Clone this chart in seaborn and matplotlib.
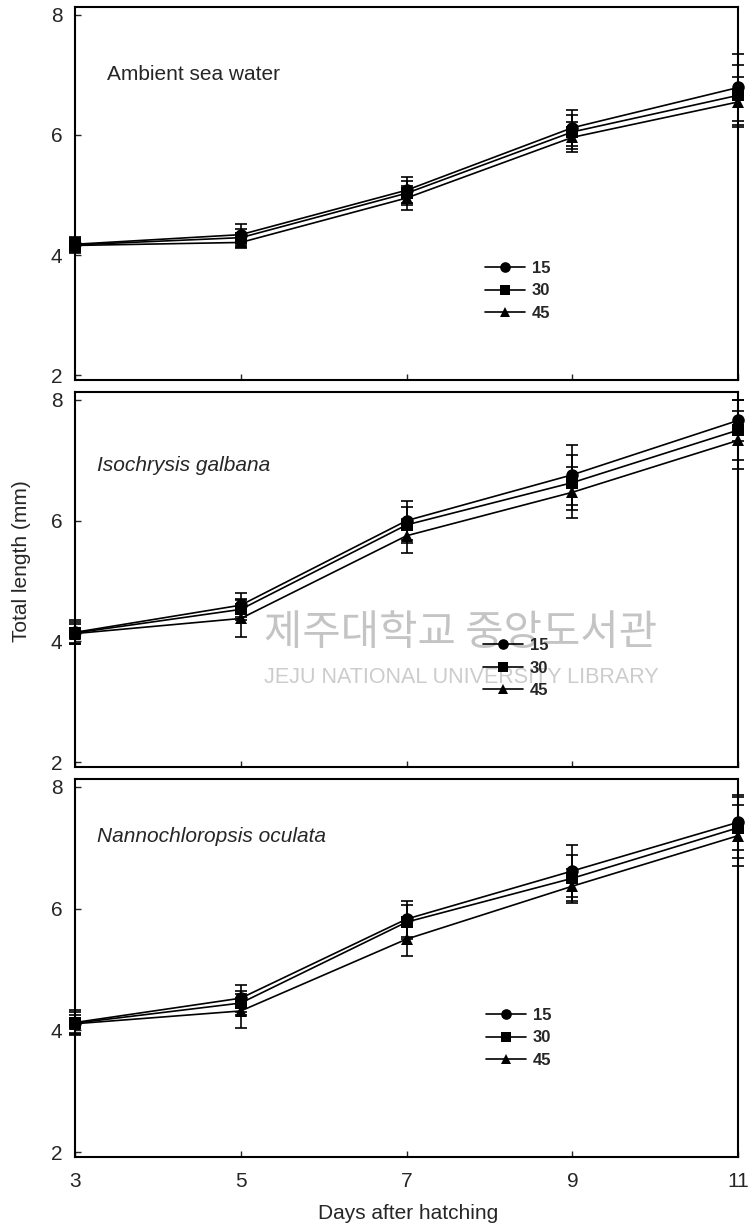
import matplotlib
matplotlib.use("Agg")
import pandas as pd
import seaborn as sns
import matplotlib.pyplot as plt

days = [3, 5, 7, 9, 11]
densities = ["15", "30", "45"]
panels = ["Ambient sea water", "Isochrysis galbana", "Nannochloropsis oculata"]

# mean total length (mm) and error, per panel and density
amb_15 = [4.18, 4.34, 5.08, 6.12, 6.79]
amb_30 = [4.17, 4.29, 5.03, 6.05, 6.66]
amb_45 = [4.16, 4.21, 4.95, 5.96, 6.55]
amb_err_15 = [0.12, 0.17, 0.22, 0.30, 0.55]
amb_err_30 = [0.12, 0.15, 0.20, 0.28, 0.50]
amb_err_45 = [0.12, 0.10, 0.20, 0.25, 0.42]

iso_15 = [4.15, 4.60, 6.00, 6.76, 7.66]
iso_30 = [4.14, 4.53, 5.93, 6.63, 7.50]
iso_45 = [4.13, 4.38, 5.75, 6.47, 7.33]
iso_err_15 = [0.20, 0.20, 0.32, 0.50, 0.34]
iso_err_30 = [0.18, 0.18, 0.30, 0.45, 0.50]
iso_err_45 = [0.15, 0.30, 0.28, 0.42, 0.48]

nan_15 = [4.13, 4.53, 5.83, 6.62, 7.42]
nan_30 = [4.12, 4.45, 5.78, 6.50, 7.33]
nan_45 = [4.11, 4.32, 5.50, 6.37, 7.20]
nan_err_15 = [0.20, 0.22, 0.30, 0.42, 0.45]
nan_err_30 = [0.18, 0.20, 0.28, 0.38, 0.50]
nan_err_45 = [0.15, 0.28, 0.27, 0.28, 0.50]

means = [[amb_15, amb_30, amb_45], [iso_15, iso_30, iso_45], [nan_15, nan_30, nan_45]]
errs = [[amb_err_15, amb_err_30, amb_err_45], [iso_err_15, iso_err_30, iso_err_45],
        [nan_err_15, nan_err_30, nan_err_45]]

sns.set_style("ticks")
plt.rcParams['font.family'] = ['Liberation Sans', 'DejaVu Sans']

fig = plt.figure(figsize=(7.52, 12.27), dpi=100)
left, width = 0.0997, 0.882
bottoms = [0.6903, 0.3749, 0.0570]
heights = [0.304, 0.3056, 0.3081]
txt_pos = [(0.048, 0.82), (0.033, 0.805), (0.033, 0.847)]
leg_pos = [(0.618, 0.239), (0.615, 0.264), (0.62, 0.315)]
marks = {"15": "o", "30": "s", "45": "^"}

for i in range(3):
    ax = fig.add_axes([left, bottoms[i], width, heights[i]])
    rows = []
    for j, d in enumerate(densities):
        for k, x in enumerate(days):
            rows.append({"day": x, "length": means[i][j][k], "err": errs[i][j][k], "density": d})
    df = pd.DataFrame(rows)
    sns.lineplot(data=df, x="day", y="length", style="density", markers=marks, dashes=False,
                 color="black", markersize=9, markeredgewidth=0, linewidth=1.2,
                 clip_on=False, zorder=3, ax=ax)
    for d in densities:
        sub = df[df["density"] == d]
        ax.errorbar(sub["day"], sub["length"], yerr=sub["err"], fmt="none", ecolor="black",
                    elinewidth=1.2, capsize=4, capthick=1.2, clip_on=False, zorder=2)
    h, l = ax.get_legend_handles_labels()
    ax.legend(h, l, loc="center left", bbox_to_anchor=leg_pos[i], frameon=False,
              borderpad=0, borderaxespad=0, handlelength=2.4, handletextpad=0.4,
              labelspacing=0.45, markerscale=0.85,
              prop={"weight": "bold", "size": 12})
    ax.set_xlim(3, 11)
    ax.set_ylim(1.92, 8.13)
    ax.set_xticks(days)
    ax.set_yticks([2, 4, 6, 8])
    ax.tick_params(direction="in", length=4, width=1, labelsize=15, pad=9)
    ax.set_xlabel("")
    ax.set_ylabel("")
    if i < 2:
        ax.tick_params(axis="x", labelbottom=False)
    else:
        ax.tick_params(axis="x", pad=11)
    for s in ax.spines.values():
        s.set_linewidth(1.5)
        s.set_color("black")
    ax.text(txt_pos[i][0], txt_pos[i][1], panels[i], transform=ax.transAxes, fontsize=15,
            va="center", ha="left", style="normal" if i == 0 else "italic")
    if i == 1:
        ax.text(0.613, 0.484, "제주대학교 중앙도서관", transform=fig.transFigure,
                fontsize=30, color="#c4c4c4", ha="center", va="center",
                family=["Noto Sans CJK KR", "DejaVu Sans"], zorder=0.5)
        ax.text(0.613, 0.4475, "JEJU NATIONAL UNIVERSITY LIBRARY", transform=fig.transFigure,
                fontsize=15.5, color="#cccccc", ha="center", va="center", zorder=0.5)

fig.text(0.029, 0.543, "Total length (mm)", rotation=90, fontsize=15, ha="center", va="center")
fig.text(0.543, 0.0114, "Days after hatching", fontsize=15, ha="center", va="center")

fig.savefig("out.png", dpi=100)
